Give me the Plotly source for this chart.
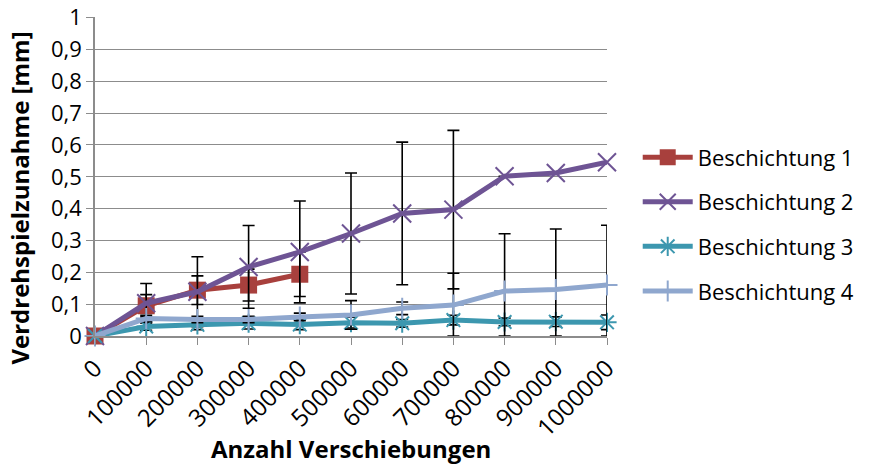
import numpy as np
import plotly.graph_objects as go

verschiebungen = [0, 100000, 200000, 300000, 400000, 500000, 600000, 700000, 800000, 900000, 1000000]
x_labels = [str(v) for v in verschiebungen]
y_ticks = [0, 0.1, 0.2, 0.3, 0.4, 0.5, 0.6, 0.7, 0.8, 0.9, 1.0]
y_ticklabels = ["0", "0,1", "0,2", "0,3", "0,4", "0,5", "0,6", "0,7", "0,8", "0,9", "1"]

besch1 = [0, 0.095, 0.144, 0.160, 0.194]
besch1_err = [0, 0.035, 0.045, 0.050, 0.070]

besch2 = [0, 0.103, 0.139, 0.217, 0.264, 0.322, 0.385, 0.397, 0.502, 0.512, 0.546]
besch2_err = [0, 0.062, 0.110, 0.130, 0.160, 0.190, 0.224, 0.249, 0, 0, 0]

besch3 = [0, 0.030, 0.035, 0.040, 0.036, 0.042, 0.040, 0.050, 0.044, 0.045, 0.043]
besch3_err = [0, 0.012, 0.015, 0.018, 0.016, 0.017, 0.012, 0.015, 0.012, 0.015, 0.023]

besch4 = [0, 0.055, 0.052, 0.052, 0.060, 0.066, 0.087, 0.097, 0.141, 0.146, 0.160]
besch4_err = [0, 0.010, 0.010, 0.010, 0.012, 0.045, 0.020, 0.100, 0.180, 0.190, 0.188]

FONT = "Open Sans, sans-serif"

serien = [
    ("Beschichtung 1", besch1, besch1_err, "#A8403D", dict(symbol="square", size=17)),
    ("Beschichtung 2", besch2, besch2_err, "#6E5494", dict(symbol="x-thin-open", size=18, line=dict(width=2, color="#6E5494"))),
    ("Beschichtung 3", besch3, besch3_err, "#3C97AF", dict(symbol="asterisk-open", size=16, line=dict(width=2, color="#3C97AF"))),
    ("Beschichtung 4", besch4, besch4_err, "#8FA7CE", dict(symbol="cross-thin-open", size=15, line=dict(width=2, color="#8FA7CE"))),
]

fig = go.Figure()
for name, werte, err, farbe, marker in serien:
    werte = np.array(werte)
    err = np.array(err)
    fig.add_trace(
        go.Scatter(
            x=verschiebungen[: len(werte)],
            y=werte,
            mode="lines+markers",
            name=name,
            legendgroup=name,
            line=dict(color=farbe, width=5),
            marker=dict(color=farbe, **marker),
            error_y=dict(
                type="data",
                array=err,
                arrayminus=np.minimum(err, werte),
                color="#000000",
                thickness=1.6,
                width=6,
            ),
            cliponaxis=False,
        )
    )

# die Seite hat 8px Rand im Browser -> Groesse und Raender entsprechend kleiner
fig.update_layout(
    width=863,
    height=459,
    template="plotly_white",
    paper_bgcolor="#ffffff",
    plot_bgcolor="#ffffff",
    font=dict(family=FONT, color="#000000", size=22),
    margin=dict(l=87, r=264, t=9, b=131),
    showlegend=True,
    legend=dict(
        x=1.06,
        xanchor="left",
        y=0.35,
        yanchor="middle",
        traceorder="grouped",
        tracegroupgap=13,
        itemwidth=50,
        font=dict(family=FONT, size=22, color="#000000"),
        bgcolor="rgba(0,0,0,0)",
    ),
    annotations=[
        dict(
            text="<b>Anzahl Verschiebungen</b>",
            xref="paper", yref="paper",
            x=0.5, y=-0.354,
            xanchor="center", yanchor="middle",
            showarrow=False,
            font=dict(family=FONT, size=24),
        ),
        dict(
            text="<b>Verdrehspielzunahme [mm]</b>",
            xref="paper", yref="paper",
            x=-0.147, y=0.433,
            xanchor="center", yanchor="middle",
            textangle=-90,
            showarrow=False,
            font=dict(family=FONT, size=24),
        ),
    ],
)

fig.update_xaxes(
    range=[0, 1000000],
    tickvals=verschiebungen,
    ticktext=x_labels,
    tickangle=-45,
    automargin=False,
    showgrid=False,
    zeroline=False,
    showline=True,
    linecolor="#8C8C8C",
    linewidth=1.5,
    ticks="outside",
    ticklen=7,
    tickcolor="#8C8C8C",
    tickfont=dict(family=FONT, size=24, color="#000000"),
)
fig.update_yaxes(
    range=[0, 1.002],
    tickvals=y_ticks,
    ticktext=y_ticklabels,
    automargin=False,
    ticklabeloverflow="allow",
    gridcolor="#8C8C8C",
    gridwidth=1,
    zeroline=False,
    showline=True,
    linecolor="#8C8C8C",
    linewidth=1.5,
    ticks="outside",
    ticklen=7,
    tickcolor="#8C8C8C",
    tickfont=dict(family=FONT, size=22, color="#000000"),
)

fig.write_html("out.html")
